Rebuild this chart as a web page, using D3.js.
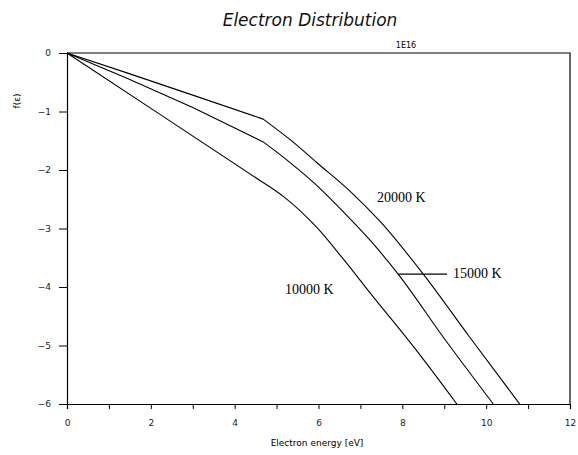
<!DOCTYPE html>
<html>
<head>
<meta charset="utf-8">
<script src="https://cdnjs.cloudflare.com/ajax/libs/d3/7.8.5/d3.min.js"></script>
<style>
  body { margin: 0; background: #fff; }
  svg { display: block; }
  .tick text { font-family: "DejaVu Sans", sans-serif; font-size: 9px; fill: #222; }
</style>
</head>
<body>
<svg id="chart" width="578" height="455"></svg>
<script>
// values (energy in eV, log10 f)
var xTicks = [0, 2, 4, 6, 8, 10, 12];
var yTicks = [0, -1, -2, -3, -4, -5, -6];

// each curve: straight part up to the knee, then the bending tail
var curve20000 = [[0,0],[1.43,-0.34],[3,-0.72],[4.68,-1.13],[5.39,-1.52],[5.97,-1.88],[6.75,-2.36],[7.47,-2.88],[8.5,-3.78],[9.6,-4.85],[10.8,-6]];
var curve15000 = [[0,0],[1.43,-0.43],[3,-0.93],[4.68,-1.52],[5.3,-1.86],[5.97,-2.27],[6.6,-2.72],[7.23,-3.2],[7.9,-3.78],[9.0,-4.88],[10.17,-6]];
var curve10000 = [[0,0],[2.2,-1.04],[4.65,-2.2],[5.16,-2.45],[5.97,-2.99],[6.59,-3.52],[7.23,-4.1],[8.3,-5.05],[9.3,-6]];
var knee = [4.68, 4.68, 4.65];

var series = [
  {name: "20000  K", pts: curve20000, k: knee[0], lx: 377, ly: 202},
  {name: "15000  K", pts: curve15000, k: knee[1], lx: 453, ly: 278},
  {name: "10000  K", pts: curve10000, k: knee[2], lx: 285, ly: 294}
];

var svg = d3.select("#chart");
var margin = {left: 67, right: 8, top: 53, bottom: 51};
var W = 578, H = 455;

var x = d3.scaleLinear().domain([0, 12]).range([margin.left, W - margin.right]);
var y = d3.scaleLinear().domain([-6, 0]).range([H - margin.bottom, margin.top]);

// title
svg.append("text")
  .attr("x", 310).attr("y", 26)
  .attr("text-anchor", "middle")
  .style("font-family", "'DejaVu Sans', sans-serif")
  .style("font-style", "italic")
  .style("font-size", "17px")
  .style("fill", "#111")
  .text("Electron Distribution");

svg.append("text")
  .attr("x", 406).attr("y", 48)
  .attr("text-anchor", "middle")
  .style("font-family", "'DejaVu Sans', sans-serif")
  .style("font-size", "8px")
  .text("1E16");

// frame (top + right)
svg.append("path")
  .attr("d", "M" + x(0) + "," + y(0) + "H" + x(12) + "V" + y(-6))
  .attr("fill", "none").attr("stroke", "#000").attr("stroke-width", 1.2);

var xAxis = svg.append("g")
  .attr("transform", "translate(0," + y(-6) + ")")
  .call(d3.axisBottom(x).tickValues(d3.range(0, 13)).tickSize(5)
    .tickFormat(function(d){ return xTicks.indexOf(d) >= 0 ? d : ""; }));
xAxis.selectAll(".tick text").attr("dy", "1.6em");

var yAxis = svg.append("g")
  .attr("transform", "translate(" + x(0) + ",0)")
  .call(d3.axisLeft(y).tickValues(yTicks).tickSize(8).tickPadding(8)
    .tickFormat(function(d){ return d === 0 ? "0" : "\u2212" + Math.abs(d); }));

svg.selectAll(".domain").attr("stroke", "#000").attr("stroke-width", 1.2);
svg.selectAll(".tick line").attr("stroke", "#000");

// axis titles
svg.append("text")
  .attr("x", 317).attr("y", 446)
  .attr("text-anchor", "middle")
  .style("font-family", "'DejaVu Sans', sans-serif")
  .style("font-size", "9px")
  .text("Electron energy [eV]");

svg.append("text")
  .attr("transform", "translate(20,101) rotate(-90)")
  .attr("text-anchor", "middle")
  .style("font-family", "'DejaVu Sans', sans-serif")
  .style("font-size", "9px")
  .text("f(\u03b5)");

var straight = d3.line()
  .x(function(d){ return x(d[0]); })
  .y(function(d){ return y(d[1]); });
var smooth = d3.line()
  .x(function(d){ return x(d[0]); })
  .y(function(d){ return y(d[1]); })
  .curve(d3.curveMonotoneX);

series.forEach(function(s){
  var i = s.pts.findIndex(function(p){ return p[0] === s.k; });
  var d = straight(s.pts.slice(0, i + 1)) + smooth(s.pts.slice(i)).replace(/^M/, "L");
  svg.append("path")
    .attr("d", d)
    .attr("fill", "none")
    .attr("stroke", "#000")
    .attr("stroke-width", 1.1);

  svg.append("text")
    .attr("x", s.lx).attr("y", s.ly)
    .style("font-family", "'Liberation Serif', serif")
    .style("font-size", "14px")
    .text(s.name);
});

// leader line for the 15000 K label
svg.append("line")
  .attr("x1", x(7.9)).attr("x2", 447)
  .attr("y1", y(-3.78)).attr("y2", y(-3.78))
  .attr("stroke", "#000").attr("stroke-width", 1.2);
</script>
</body>
</html>
